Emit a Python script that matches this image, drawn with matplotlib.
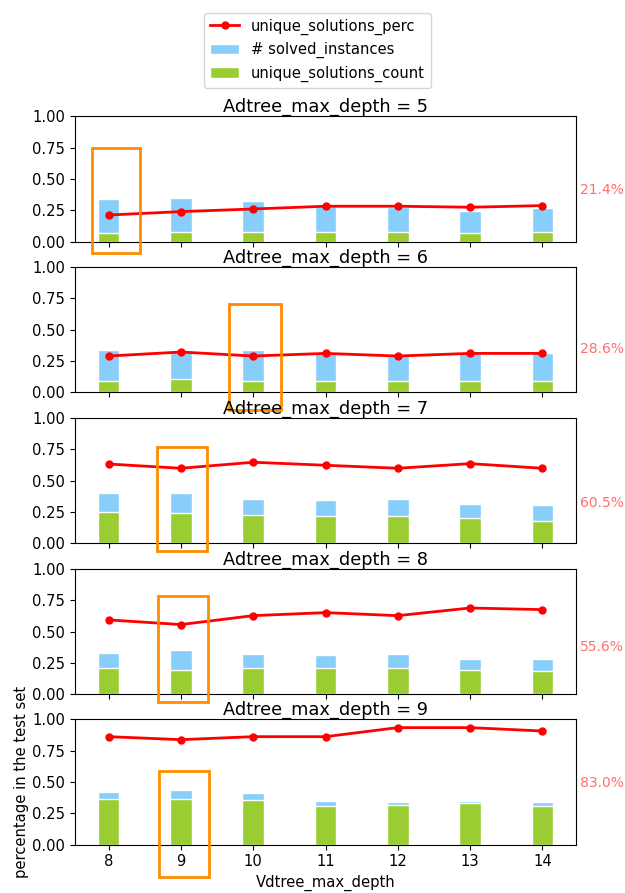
import matplotlib.pyplot as plt
import matplotlib.patches as patches
import numpy as np

vdtree_depth = [8, 9, 10, 11, 12, 13, 14]
adtree_depth = [5, 6, 7, 8, 9]

solved_instances = [
    [0.34, 0.35, 0.325, 0.285, 0.28, 0.245, 0.267],
    [0.34, 0.34, 0.34, 0.31, 0.29, 0.31, 0.316],
    [0.402, 0.402, 0.354, 0.344, 0.354, 0.317, 0.307],
    [0.333, 0.357, 0.323, 0.31, 0.323, 0.278, 0.278],
    [0.422, 0.436, 0.409, 0.35, 0.34, 0.35, 0.34],
]
unique_count = [
    [0.067, 0.08, 0.08, 0.08, 0.08, 0.067, 0.08],
    [0.093, 0.106, 0.093, 0.093, 0.093, 0.093, 0.093],
    [0.249, 0.238, 0.225, 0.214, 0.214, 0.204, 0.18],
    [0.209, 0.196, 0.209, 0.209, 0.209, 0.196, 0.183],
    [0.366, 0.366, 0.356, 0.31, 0.318, 0.332, 0.31],
]
unique_perc = [
    [0.213, 0.24, 0.261, 0.283, 0.283, 0.275, 0.288],
    [0.289, 0.321, 0.289, 0.31, 0.289, 0.31, 0.31],
    [0.632, 0.598, 0.646, 0.622, 0.598, 0.635, 0.598],
    [0.593, 0.556, 0.627, 0.651, 0.627, 0.688, 0.675],
    [0.861, 0.837, 0.861, 0.861, 0.933, 0.933, 0.906],
]
side_labels = ['21.4%', '28.6%', '60.5%', '55.6%', '83.0%']
label_ypos = [0.41, 0.345, 0.32, 0.375, 0.49]

# highlight boxes (x0, x1, y0, y1) in data units
highlights = [
    (7.77, 8.44, -0.09, 0.75),
    (9.67, 10.39, -0.14, 0.70),
    (8.67, 9.36, -0.06, 0.77),
    (8.68, 9.37, -0.06, 0.78),
    (8.70, 9.39, -0.26, 0.59),
]

plt.rcParams['font.size'] = 10.6

fig = plt.figure(figsize=(6.25, 8.93), dpi=100)

left, width, height = 0.12, 0.8016, 0.1405
bottoms = [0.7293, 0.5607, 0.3916, 0.2225, 0.0541]

axes = []
for i, ad in enumerate(adtree_depth):
    ax = fig.add_axes([left, bottoms[i], width, height])
    axes.append(ax)
    b1 = ax.bar(vdtree_depth, solved_instances[i], width=0.3, color='lightskyblue',
                edgecolor='white', linewidth=1, label='# solved_instances')
    b2 = ax.bar(vdtree_depth, unique_count[i], width=0.3, color='yellowgreen',
                edgecolor='white', linewidth=1, label='unique_solutions_count')
    ln, = ax.plot(vdtree_depth, unique_perc[i], color='red', marker='o', markersize=5,
                  linewidth=2, label='unique_solutions_perc')
    ax.set_ylim(0, 1)
    ax.set_yticks([0, 0.25, 0.5, 0.75, 1.0])
    ax.set_xticks(vdtree_depth)
    ax.set_title('Adtree_max_depth = %d' % ad, fontsize=12.8, pad=2)
    if i < len(adtree_depth) - 1:
        ax.set_xticklabels([])
    ax.text(1.008, label_ypos[i], side_labels[i], transform=ax.transAxes,
            color='#ff5555', alpha=0.85, fontsize=10, va='center', ha='left')
    x0, x1, y0, y1 = highlights[i]
    rect = patches.Rectangle((x0, y0), x1 - x0, y1 - y0, fill=False,
                             edgecolor='darkorange', linewidth=2, clip_on=False,
                             zorder=5)
    ax.add_patch(rect)

axes[-1].set_xlabel('Vdtree_max_depth')
axes[-1].set_ylabel('percentage in the test set', labelpad=2)

fig.legend(handles=[ln, b1, b2], loc='upper center', bbox_to_anchor=(0.508, 0.994))

fig.savefig('out.png', dpi=100)
